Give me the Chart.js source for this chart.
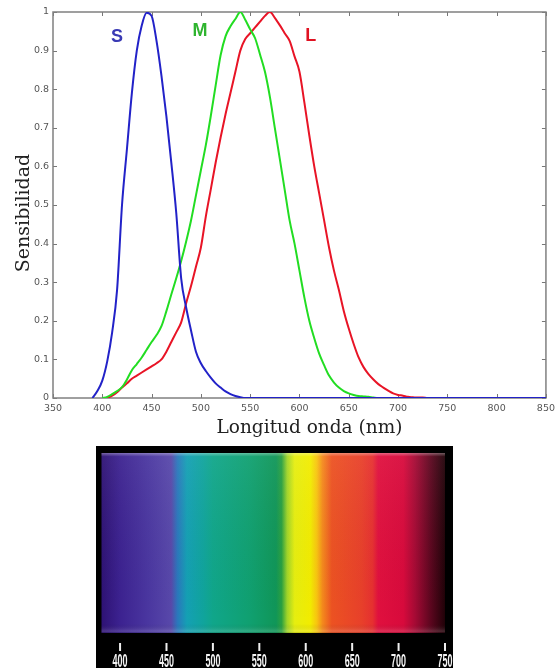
<!DOCTYPE html>
<html lang="es">
<head>
  <meta charset="UTF-8" />
  <title>Sensibilidad de los conos</title>
  <script src="https://cdn.jsdelivr.net/npm/chart.js"></script>
  <style>
    body { margin: 0; background: #fff; }
    #wrap { position: relative; width: 560px; height: 668px; overflow: hidden; }
    #curves { position: absolute; left: 0; top: 0; }
    #spectrum { position: absolute; left: 96px; top: 446px; background: #000; }
  </style>
</head>
<body>
<div id="wrap">
  <canvas id="curves" width="560" height="444"></canvas>
  <canvas id="spectrum" width="357" height="222"></canvas>
</div>

<script>
  // longitudes de onda (nm) comunes a las tres curvas
  const wavelengths = [
    390, 395, 400, 405, 410, 415, 420, 425, 430, 435, 440, 445, 450, 455, 460, 465, 470, 475, 480, 485,
    490, 495, 500, 505, 510, 515, 520, 525, 530, 535, 540, 545, 550, 555, 560, 565, 570, 575, 580, 585,
    590, 595, 600, 605, 610, 615, 620, 625, 630, 635, 640, 645, 650, 655, 660, 665, 670, 675, 680, 685,
    690, 695, 700, 705, 710, 715, 720, 725, 730, 735, 850
  ];

  // conos S (azul)
  const sCone = [
    0, 0.018, 0.045, 0.095, 0.17, 0.28, 0.5, 0.645, 0.79, 0.9, 0.965, 0.998, 0.99, 0.925, 0.835, 0.73, 0.61, 0.48, 0.31, 0.235,
    0.175, 0.12, 0.09, 0.07, 0.053, 0.038, 0.027, 0.017, 0.01, 0.005, 0.002, 0, 0, 0, 0, 0, 0, 0, 0, 0,
    0, 0, 0, 0, 0, 0, 0, 0, 0, 0, 0, 0, 0, 0, 0, 0, 0, 0, 0, 0,
    0, 0, 0, 0, 0, 0, 0, 0, 0, 0, 0
  ];

  // conos M (verde)
  const mCone = [
    null, null, 0, 0.003, 0.01, 0.018, 0.028, 0.048, 0.072, 0.088, 0.105, 0.125, 0.145, 0.163, 0.186, 0.225, 0.268, 0.31, 0.355, 0.405,
    0.46, 0.525, 0.59, 0.655, 0.73, 0.81, 0.888, 0.937, 0.963, 0.982, 1.0, 0.98, 0.955, 0.932, 0.89, 0.845, 0.78, 0.7, 0.62, 0.54,
    0.46, 0.4, 0.33, 0.26, 0.2, 0.155, 0.115, 0.085, 0.058, 0.04, 0.027, 0.018, 0.012, 0.008, 0.005, 0.004, 0.003, 0.001, 0, null,
    null, null, null, null, null, null, null, null, null, null, null
  ];

  // conos L (rojo)
  const lCone = [
    null, null, null, 0, 0.006, 0.015, 0.027, 0.038, 0.05, 0.058, 0.066, 0.074, 0.082, 0.09, 0.1, 0.12, 0.145, 0.17, 0.196, 0.245,
    0.29, 0.34, 0.39, 0.47, 0.54, 0.61, 0.675, 0.735, 0.79, 0.845, 0.9, 0.93, 0.945, 0.96, 0.975, 0.99, 1.0, 0.985, 0.966, 0.945,
    0.925, 0.885, 0.845, 0.765, 0.68, 0.6, 0.53, 0.46, 0.39, 0.33, 0.28, 0.225, 0.18, 0.14, 0.105, 0.08, 0.062, 0.048, 0.036, 0.027,
    0.019, 0.012, 0.008, 0.006, 0.003, 0.002, 0.001, 0.001, 0, 0, null
  ];

  // etiquetas S, M, L (en unidades de los ejes)
  const coneNames = ['S', 'M', 'L'];
  const coneLabelX = [415, 499, 611.5];
  const coneLabelY = [0.936, 0.951, 0.938];
  const coneColors = ['#2222c8', '#22dd22', '#e81426'];
  const coneTextColors = ['#3a3ab4', '#2eb42e', '#e01222'];

  // espectro visible: paradas de color
  const specWave = [380, 400, 430, 455, 462, 472, 490, 500, 540, 568, 574, 580, 588, 605, 612, 618, 628, 660, 672, 678, 705, 718, 735, 750];
  const specColor = [
    '#2e1274', '#3c2290', '#4a36a0', '#5848aa', '#2a78bc', '#14a0b4', '#10a49c', '#10a68a', '#10a070', '#109658',
    '#2aa040', '#a0d428', '#e6ee10', '#f2ec00', '#f8c410', '#f48a1c', '#ec5222', '#e8402a', '#e63030', '#e0103e',
    '#d80a3c', '#a40a34', '#5a061e', '#200208'
  ];
  const specTicks = [400, 450, 500, 550, 600, 650, 700, 750];

  const series = (vals) => wavelengths.map((w, i) => ({ x: w, y: vals[i] }));

  // caja, marcas interiores, titulos y letras S M L
  const framePlugin = {
    id: 'frame',
    beforeDatasetsDraw(chart) {
      const { ctx, chartArea: a, scales: { x, y } } = chart;
      ctx.save();
      ctx.strokeStyle = '#777';
      ctx.lineWidth = 1;
      ctx.beginPath();
      x.ticks.forEach(t => {
        const px = Math.round(x.getPixelForValue(t.value)) + 0.5;
        ctx.moveTo(px, a.bottom); ctx.lineTo(px, a.bottom - 4);
        ctx.moveTo(px, a.top); ctx.lineTo(px, a.top + 4);
      });
      y.ticks.forEach(t => {
        const py = Math.round(y.getPixelForValue(t.value)) + 0.5;
        ctx.moveTo(a.left, py); ctx.lineTo(a.left + 4, py);
        ctx.moveTo(a.right, py); ctx.lineTo(a.right - 4, py);
      });
      ctx.stroke();
      ctx.lineWidth = 1.5;
      ctx.strokeStyle = '#808080';
      ctx.strokeRect(a.left, a.top, a.right - a.left, a.bottom - a.top);
      ctx.restore();
    },
    afterDraw(chart) {
      const { ctx, chartArea: a, scales: { x, y } } = chart;
      ctx.save();
      ctx.fillStyle = '#222';
      ctx.textAlign = 'center';
      ctx.textBaseline = 'alphabetic';
      ctx.font = '18.5px "DejaVu Serif", serif';
      ctx.fillText('Longitud onda (nm)', (a.left + a.right) / 2 + 10, a.bottom + 35);
      ctx.translate(29, (a.top + a.bottom) / 2 + 8);
      ctx.rotate(-Math.PI / 2);
      ctx.font = '19px "DejaVu Serif", serif';
      ctx.fillText('Sensibilidad', 0, 0);
      ctx.restore();

      ctx.save();
      ctx.font = 'bold 18px "Liberation Sans", Arial, sans-serif';
      ctx.textAlign = 'center';
      ctx.textBaseline = 'middle';
      coneNames.forEach((n, i) => {
        ctx.fillStyle = coneTextColors[i];
        ctx.fillText(n, x.getPixelForValue(coneLabelX[i]), y.getPixelForValue(coneLabelY[i]));
      });
      ctx.restore();
    }
  };

  new Chart(document.getElementById('curves'), {
    type: 'line',
    data: {
      datasets: [
        { label: 'S', data: series(sCone), borderColor: coneColors[0] },
        { label: 'M', data: series(mCone), borderColor: coneColors[1] },
        { label: 'L', data: series(lCone), borderColor: coneColors[2] }
      ]
    },
    options: {
      responsive: false,
      animation: false,
      devicePixelRatio: 1,
      layout: { padding: { top: 12, right: 10, left: 0, bottom: 0 } },
      elements: {
        point: { radius: 0 },
        line: { borderWidth: 2, cubicInterpolationMode: 'monotone', fill: false }
      },
      plugins: { legend: { display: false }, tooltip: { enabled: false } },
      scales: {
        x: {
          type: 'linear', min: 350, max: 850,
          grid: { display: false, drawTicks: false }, border: { display: false },
          ticks: { stepSize: 50, padding: 5, color: '#555', font: { family: 'DejaVu Sans', size: 9.5 }, maxRotation: 0 },
          afterFit: (s) => { s.height = 46; }
        },
        y: {
          min: 0, max: 1,
          grid: { display: false, drawTicks: false }, border: { display: false },
          ticks: {
            stepSize: 0.1, padding: 4, color: '#555', font: { family: 'DejaVu Sans', size: 9.5 },
            callback: (v) => String(Math.round(v * 10) / 10)
          },
          afterFit: (s) => { s.width = 53; }
        }
      }
    },
    plugins: [framePlugin]
  });

  // franja del espectro, con su eje de longitudes de onda
  const spectrumPlugin = {
    id: 'spectrum',
    beforeDatasetsDraw(chart) {
      const { ctx, chartArea: a, scales: { x } } = chart;
      const x0 = x.getPixelForValue(specWave[0]);
      const x1 = x.getPixelForValue(specWave[specWave.length - 1]);
      const g = ctx.createLinearGradient(x0, 0, x1, 0);
      specWave.forEach((w, i) => g.addColorStop((x.getPixelForValue(w) - x0) / (x1 - x0), specColor[i]));
      ctx.save();
      ctx.fillStyle = g;
      ctx.fillRect(x0, a.top, x1 - x0, a.bottom - a.top);
      const v = ctx.createLinearGradient(0, a.top, 0, a.bottom);
      v.addColorStop(0, 'rgba(255,255,255,0.35)');
      v.addColorStop(0.02, 'rgba(255,255,255,0.05)');
      v.addColorStop(0.95, 'rgba(0,0,0,0)');
      v.addColorStop(0.99, 'rgba(255,255,255,0.15)');
      v.addColorStop(1, 'rgba(0,0,0,0.2)');
      ctx.fillStyle = v;
      ctx.fillRect(x0, a.top, x1 - x0, a.bottom - a.top);
      ctx.restore();
    },
    afterDraw(chart) {
      const { ctx, chartArea: a, scales: { x } } = chart;
      ctx.save();
      ctx.strokeStyle = '#eee';
      ctx.fillStyle = '#f4f4f4';
      ctx.lineWidth = 2;
      ctx.font = 'bold 19px "Liberation Sans Narrow", "Liberation Sans", sans-serif';
      ctx.textAlign = 'center';
      ctx.textBaseline = 'alphabetic';
      specTicks.forEach(t => {
        const px = x.getPixelForValue(t);
        ctx.beginPath();
        ctx.moveTo(px, a.bottom + 10); ctx.lineTo(px, a.bottom + 18);
        ctx.stroke();
        const label = String(t);
        const sx = 15 / ctx.measureText(label).width;
        ctx.save();
        ctx.translate(px, a.bottom + 34);
        ctx.scale(sx, 1);
        ctx.fillText(label, 0, 0);
        ctx.restore();
      });
      ctx.restore();
    }
  };

  new Chart(document.getElementById('spectrum'), {
    type: 'line',
    data: { datasets: [] },
    options: {
      responsive: false,
      animation: false,
      devicePixelRatio: 1,
      layout: { padding: { left: 5.5, right: 8, top: 7, bottom: 35 } },
      plugins: { legend: { display: false }, tooltip: { enabled: false } },
      scales: {
        x: { type: 'linear', min: 380, max: 750, display: false },
        y: { min: 0, max: 1, display: false }
      }
    },
    plugins: [spectrumPlugin]
  });
</script>
</body>
</html>
